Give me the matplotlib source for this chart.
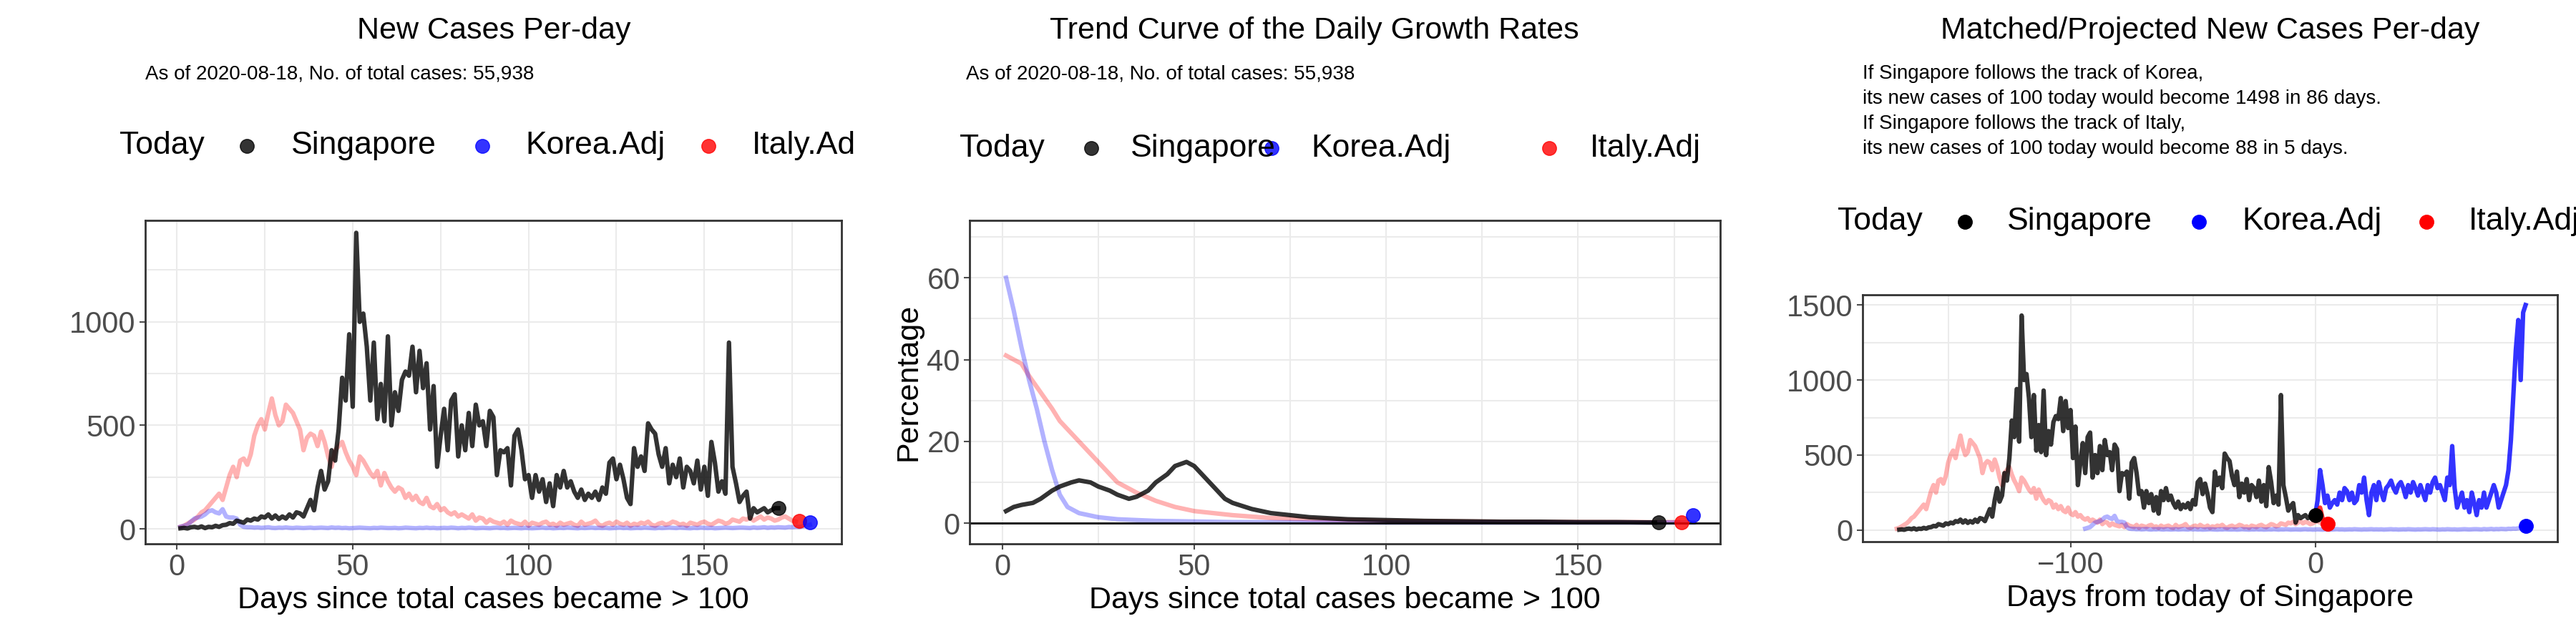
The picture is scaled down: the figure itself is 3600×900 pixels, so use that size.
import matplotlib
matplotlib.use("Agg")
import matplotlib.pyplot as plt
import numpy as np
from matplotlib.lines import Line2D

plt.rcParams['font.family'] = ['Liberation Sans', 'DejaVu Sans']

# ----- data ------------------------------------------------------------------------------------------------------- #

sg_new = [3, 5, 2, 8, 10, 6, 12, 4, 10, 8,
          15, 10, 18, 20, 28, 25, 40, 35, 30, 45,
          40, 50, 45, 60, 55, 70, 50, 65, 48, 60,
          50, 70, 55, 80, 75, 60, 100, 140, 90, 200,
          280, 190, 230, 380, 330, 480, 730, 620, 940, 590,
          1430, 1000, 1040, 880, 620, 900, 530, 700, 520, 930,
          500, 660, 570, 720, 760, 740, 880, 660, 860, 680,
          800, 480, 690, 300, 450, 580, 380, 620, 650, 350,
          500, 380, 560, 400, 600, 500, 520, 400, 570, 540,
          260, 380, 370, 390, 210, 450, 480, 380, 240, 260,
          150, 260, 180, 240, 130, 220, 110, 260, 200, 280,
          200, 230, 180, 150, 190, 140, 170, 150, 180, 140,
          200, 170, 320, 340, 240, 310, 240, 150, 120, 390,
          300, 350, 280, 510, 480, 460, 360, 300, 390, 220,
          310, 250, 340, 200, 300, 280, 220, 330, 190, 300,
          160, 420, 320, 180, 230, 170, 900, 300, 220, 130,
          160, 180, 50, 100, 80, 90, 100, 80, 90, 100, 100]

italy_new = [10, 15, 25, 35, 45, 60, 80, 90, 110, 130,
             150, 170, 140, 200, 260, 300, 250, 330, 340, 310,
             360, 450, 500, 530, 480, 560, 630, 550, 500, 520,
             600, 580, 560, 520, 480, 380, 440, 460, 450, 400,
             470, 420, 350, 300, 380, 400, 420, 370, 330, 300,
             260, 350, 330, 300, 270, 250, 280, 210, 270, 230,
             200, 180, 200, 190, 150, 170, 140, 160, 130, 120,
             150, 110, 100, 120, 90, 100, 80, 70, 80, 60,
             70, 60, 50, 70, 40, 55, 50, 30, 45, 35,
             30, 25, 35, 20, 40, 30, 25, 20, 35, 15, 30, 25, 20, 30, 35, 20, 25, 15, 30, 20,
             25, 30, 20, 15, 35, 20, 25, 30, 40, 20, 15, 25, 30, 20, 35, 25, 20, 30, 15, 25,
             20, 30, 25, 35, 20, 15, 25, 30, 20, 25, 35, 30, 20, 25, 15, 30, 25, 20, 30, 35,
             25, 20, 30, 40, 35, 25, 30, 45, 40, 35, 50, 45, 55, 40, 50, 60, 45, 55, 50, 40,
             45, 55, 60, 50, 40, 35]

korea_new = [10, 15, 20, 35, 50, 55, 60, 70, 85, 90, 80, 75, 95, 60, 55, 55, 50, 20, 10, 8,
             8, 6, 7, 5, 6, 8, 5, 4, 6, 5, 7, 5, 4, 6, 5, 4, 5, 6, 4, 5,
             6, 5, 4, 7, 5, 6, 4, 5, 3, 4, 5, 6, 5, 4, 3, 5, 4, 6, 5, 4,
             4, 5, 3, 4, 6, 5, 4, 3, 5, 4, 6, 4, 5, 3, 4, 5, 4, 6, 5, 3,
             5, 4, 6, 5, 3, 4, 5, 4, 3, 5, 6, 4, 5, 3, 4, 5, 4, 3, 5, 4,
             3, 4, 5, 6, 4, 5, 3, 4, 5, 4, 6, 5, 4, 3, 5, 4, 5, 6, 4, 5,
             4, 5, 3, 4, 5, 6, 4, 5, 3, 4, 5, 4, 6, 5, 4, 3, 5, 4, 5, 6,
             5, 4, 6, 5, 4, 3, 5, 4, 6, 5, 4, 5, 3, 4, 5, 6, 5, 4, 5, 6,
             6, 5, 4, 7, 5, 6, 8, 5, 7, 6, 8, 7, 6, 9, 8, 10, 9, 12, 15, 20]

korea_proj = [100, 200, 400, 300, 180, 230, 150, 180, 200, 170,
              250, 200, 280, 260, 200, 250, 180, 200, 300, 250,
              350, 200, 100, 250, 300, 200, 320, 250, 200, 280,
              300, 330, 280, 250, 300, 320, 280, 220, 300, 250,
              320, 280, 230, 300, 250, 200, 300, 250, 320, 350,
              280, 300, 250, 200, 350, 300, 560, 280, 150, 200,
              250, 150, 200, 120, 250, 180, 100, 200, 150, 250,
              150, 200, 250, 300, 250, 150, 200, 250, 300, 400,
              600, 900, 1200, 1400, 1000, 1450, 1500]
italy_proj = [100, 120, 150, 80]

growth_sg_x = [1, 3, 5, 8, 10, 13, 15, 18, 20, 23, 25, 28, 30, 33, 35, 38, 40, 43, 45, 48, 50,
               53, 55, 58, 60, 65, 70, 75, 80, 90, 100, 110, 120, 130, 140, 150, 160, 170]
growth_sg = [3, 4, 4.5, 5, 6, 8, 9, 10, 10.5, 10, 9, 8, 7, 6, 6.5, 8, 10, 12, 14, 15, 14,
             11, 9, 6, 5, 3.5, 2.5, 2, 1.5, 1, 0.8, 0.6, 0.5, 0.4, 0.4, 0.3, 0.3, 0.2]
growth_kr_x = [1, 3, 5, 7, 9, 11, 13, 15, 17, 20, 25, 30, 40, 60, 100, 140, 180]
growth_kr = [60, 52, 43, 35, 28, 20, 13, 7, 4, 2.5, 1.5, 1, 0.6, 0.3, 0.2, 0.2, 0.2]
growth_it_x = [1, 3, 5, 7, 10, 13, 15, 18, 20, 23, 25, 28, 30, 35, 40, 45, 50, 55, 60, 70,
               80, 100, 130, 160, 176]
growth_it = [41, 40, 39, 36, 32, 28, 25, 22, 20, 17, 15, 12, 10, 7.5, 5.5, 4, 3, 2.5, 2, 1.3,
             1, 0.6, 0.4, 0.3, 0.3]

today_new = {"sg": (171, 100), "it": (177, 40), "kr": (180, 30)}
today_growth = {"sg": (171, 0.2), "it": (177, 0.3), "kr": (180, 2)}
shift_sg, shift_it, shift_kr = 171, 172, 95

W, H = 3600, 900
SG, KR, IT = '#000000', '#0000ff', '#ff0000'
LW = 4.5
FS_TITLE, FS_LEG, FS_TICK, FS_LAB, FS_NOTE = 31, 32, 30, 31, 20

# ----- helpers ---------------------------------------------------------------------------------------------------- #


def fx(px):
    return px / W


def fy(py):
    return 1 - py / H


def style_axis(ax, xmaj, ymaj):
    ax.set_xticks(xmaj)
    ax.set_yticks(ymaj)
    ax.grid(True, which='both', color='#ebebeb', lw=1.5)
    ax.set_axisbelow(True)
    ax.tick_params(labelsize=FS_TICK, colors='#4d4d4d', length=6, width=1.5)
    ax.tick_params(which='minor', length=0)
    for s in ax.spines.values():
        s.set_color('#333333')
        s.set_linewidth(2)


def legend_row(y, xs, labels, alpha):
    today, m1, t1, m2, t2, m3, t3 = xs
    fig.text(fx(today), fy(y), "Today", fontsize=FS_LEG, va='center')
    for mx, tx, col, lab in [(m1, t1, SG, labels[0]), (m2, t2, KR, labels[1]), (m3, t3, IT, labels[2])]:
        fig.add_artist(Line2D([fx(mx)], [fy(y)], marker='o', ms=14, color=col, alpha=alpha,
                              transform=fig.transFigure))
        fig.text(fx(tx), fy(y), lab, fontsize=FS_LEG, va='center')


fig = plt.figure(figsize=(36, 9), dpi=100)

# ----- panel 1 ---------------------------------------------------------------------------------------------------- #
ax1 = fig.add_axes([fx(203), fy(760), fx(1176 - 203), fy(308) - fy(760)])
d_sg = np.arange(1, len(sg_new) + 1)
d_it = np.arange(1, len(italy_new) + 1)
d_kr = np.arange(1, len(korea_new) + 1)
ax1.plot(d_it, italy_new, color=IT, alpha=0.3, lw=LW)
ax1.plot(d_kr, korea_new, color=KR, alpha=0.3, lw=LW)
ax1.plot(d_sg, sg_new, color=SG, alpha=0.8, lw=LW)
for k, c in [("sg", SG), ("it", IT), ("kr", KR)]:
    ax1.plot(*today_new[k], 'o', color=c, ms=14, alpha=0.8)
ax1.set_xlim(-9, 189)
ax1.set_ylim(-72, 1490)
ax1.set_xticks([25, 75, 125, 175], minor=True)
ax1.set_yticks([250, 750, 1250], minor=True)
style_axis(ax1, [0, 50, 100, 150], [0, 500, 1000])
ax1.set_xlabel("Days since total cases became > 100", fontsize=FS_LAB)
fig.text(fx(690), fy(43), "New Cases Per-day", fontsize=FS_TITLE, ha='center', va='center')
fig.text(fx(203), fy(103), "As of 2020-08-18, No. of total cases: 55,938", fontsize=FS_NOTE, va='center')
legend_row(204, [167, 345, 407, 674, 734, 990, 1051], ["Singapore", "Korea.Adj", "Italy.Ad"], 0.8)

# ----- panel 2 ---------------------------------------------------------------------------------------------------- #
ax2 = fig.add_axes([fx(1355), fy(760), fx(2404 - 1355), fy(308) - fy(760)])
ax2.plot(growth_it_x, growth_it, color=IT, alpha=0.3, lw=LW)
ax2.plot(growth_kr_x, growth_kr, color=KR, alpha=0.3, lw=LW)
ax2.plot(growth_sg_x, growth_sg, color=SG, alpha=0.8, lw=LW)
ax2.axhline(0, color='black', lw=2)
for k, c in [("sg", SG), ("it", IT), ("kr", KR)]:
    ax2.plot(*today_growth[k], 'o', color=c, ms=14, alpha=0.8)
ax2.set_xlim(-8.5, 187)
ax2.set_ylim(-5, 74)
ax2.set_xticks([25, 75, 125, 175], minor=True)
ax2.set_yticks([10, 30, 50, 70], minor=True)
style_axis(ax2, [0, 50, 100, 150], [0, 20, 40, 60])
ax2.set_xlabel("Days since total cases became > 100", fontsize=FS_LAB)
ax2.set_ylabel("Percentage", fontsize=FS_LAB)
fig.text(fx(1837), fy(43), "Trend Curve of the Daily Growth Rates", fontsize=FS_TITLE, ha='center', va='center')
fig.text(fx(1350), fy(103), "As of 2020-08-18, No. of total cases: 55,938", fontsize=FS_NOTE, va='center')
legend_row(207, [1341, 1525, 1580, 1777, 1832, 2165, 2222], ["Singapore", "Korea.Adj", "Italy.Adj"], 0.8)

# ----- panel 3 ---------------------------------------------------------------------------------------------------- #
ax3 = fig.add_axes([fx(2603), fy(757), fx(3574 - 2603), fy(412) - fy(757)])
ax3.plot(d_it - shift_it, italy_new, color=IT, alpha=0.3, lw=LW)
ax3.plot(d_kr - shift_kr, korea_new, color=KR, alpha=0.3, lw=LW)
ax3.plot(d_sg - shift_sg, sg_new, color=SG, alpha=0.8, lw=LW)
ax3.plot(np.arange(len(korea_proj)), korea_proj, color=KR, alpha=0.8, lw=LW)
ax3.plot(np.arange(len(italy_proj)), italy_proj, color=IT, alpha=0.8, lw=LW)
ax3.plot(0, 100, 'o', color=SG, ms=14)
ax3.plot(5, 40, 'o', color=IT, ms=14)
ax3.plot(86, 30, 'o', color=KR, ms=14)
ax3.set_xlim(-185, 99)
ax3.set_ylim(-77, 1568)
ax3.set_xticks([-150, -50, 50], minor=True)
ax3.set_yticks([250, 750, 1250], minor=True)
style_axis(ax3, [-100, 0], [0, 500, 1000, 1500])
ax3.set_xlabel("Days from today of Singapore", fontsize=FS_LAB)
fig.text(fx(3089), fy(43), "Matched/Projected New Cases Per-day", fontsize=FS_TITLE, ha='center', va='center')
notes = ["If Singapore follows the track of Korea,",
         "its new cases of 100 today would become 1498 in 86 days.",
         "If Singapore follows the track of Italy,",
         "its new cases of 100 today would become 88 in 5 days."]
for i, line in enumerate(notes):
    fig.text(fx(2603), fy(103 + 35 * i), line, fontsize=FS_NOTE, va='center')
legend_row(310, [2568, 2746, 2805, 3073, 3133, 3391, 3450], ["Singapore", "Korea.Adj", "Italy.Adj"], 1.0)

fig.savefig("out.png", dpi=100)
